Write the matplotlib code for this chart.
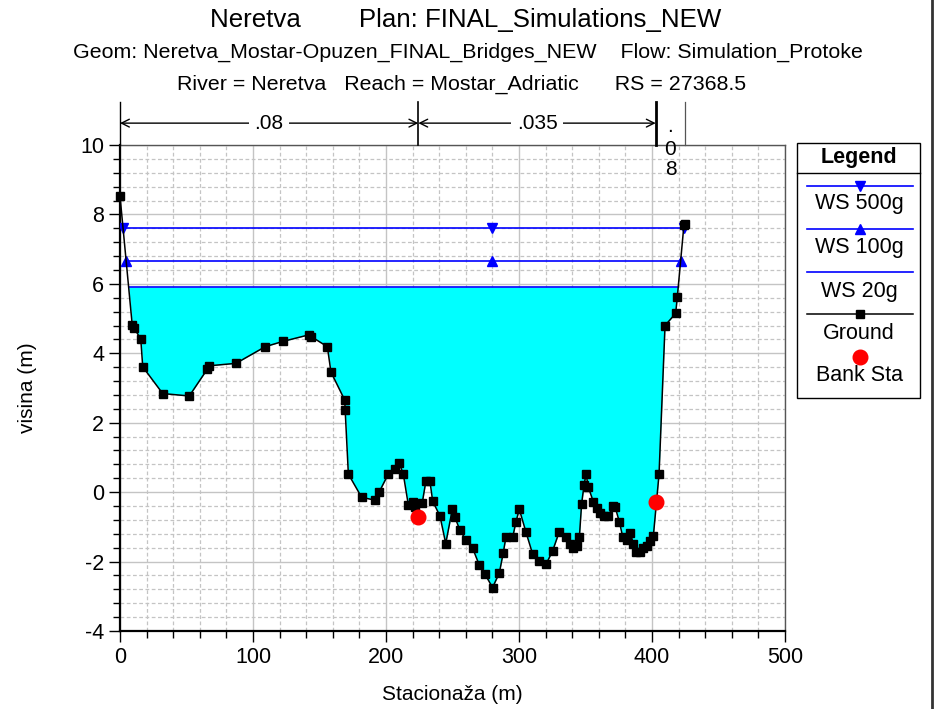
import numpy as np
import matplotlib
matplotlib.use("Agg")
import matplotlib.pyplot as plt
from matplotlib.lines import Line2D
from matplotlib.patches import Rectangle

plt.rcParams['font.family'] = ['Liberation Sans', 'DejaVu Sans']
plt.rcParams['axes.unicode_minus'] = False

# ---- data ----
ground_x = [0, 9.2, 10.7, 15.6, 17.1, 32.1, 52.1, 65.6, 67.1, 87.2, 109.2, 122.3, 141.9, 143.8,
            155.9, 158.6, 169.0, 169.3, 171.7, 181.7, 191.7, 194.7, 201.7, 206.8, 210.0, 213.0,
            216.8, 220.5, 221.8, 227.3, 230.0, 233.0, 235.1, 240.6, 244.9, 249.9, 251.9, 255.6,
            260.2, 265.2, 270.1, 274.4, 280.1, 285.2, 288.2, 290.2, 295.3, 297.7, 300.2, 305.3,
            310.3, 315.3, 320.3, 325.3, 330.3, 335.3, 338.3, 340.8, 343.4, 345.4, 347.1, 348.9,
            350.4, 352.1, 355.9, 358.4, 360.9, 363.9, 367.2, 370.5, 372.2, 375.5, 378.0, 381.0,
            383.5, 386.0, 388.0, 391.0, 393.5, 396.0, 398.5, 401.0, 405.3, 409.8, 417.8, 419.0,
            424.0, 425.0]
ground_y = [8.53, 4.81, 4.72, 4.41, 3.61, 2.84, 2.77, 3.54, 3.64, 3.71, 4.19, 4.34, 4.53, 4.48,
            4.19, 3.46, 2.65, 2.36, 0.52, -0.15, -0.23, -0.01, 0.52, 0.68, 0.83, 0.52,
            -0.37, -0.28, -0.42, -0.30, 0.32, 0.32, -0.26, -0.69, -1.48, -0.49, -0.73, -1.10,
            -1.38, -1.62, -2.10, -2.36, -2.75, -2.33, -1.74, -1.29, -1.29, -0.86, -0.49, -1.16,
            -1.79, -1.99, -2.08, -1.69, -1.14, -1.29, -1.48, -1.62, -1.56, -1.29, -0.33, 0.20,
            0.52, 0.15, -0.28, -0.47, -0.61, -0.69, -0.69, -0.39, -0.42, -0.86, -1.29, -1.38,
            -1.17, -1.48, -1.72, -1.72, -1.62, -1.56, -1.40, -1.27, 0.52, 4.80, 5.15, 5.61,
            7.69, 7.71]
bank_x = [224.3, 402.8]
bank_y = [-0.73, -0.29]
ws_names = ['WS 500g', 'WS 100g', 'WS 20g']
ws_levels = [7.61, 6.66, 5.91]
ws_markers = ['v', '^', None]
n_values = ['.08', '.035', '.08']

gx = np.array(ground_x)
gy = np.array(ground_y)


def crossings(level):
    """left and right intersections of a water level with the ground"""
    pts = []
    for i in range(len(gx) - 1):
        y0, y1 = gy[i] - level, gy[i + 1] - level
        if y0 == 0:
            pts.append(gx[i])
        elif y0 * y1 < 0:
            pts.append(gx[i] + (gx[i + 1] - gx[i]) * y0 / (y0 - y1))
    return min(pts), max(pts)


fig = plt.figure(figsize=(9.34, 7.09), dpi=100)
ax = fig.add_axes([120 / 934, 1 - 631 / 709, 665 / 934, 486 / 709])

# water fill (lowest profile)
wl = ws_levels[2]
fx = np.linspace(gx.min(), gx.max(), 4000)
fy = np.interp(fx, gx, gy)
ax.fill_between(fx, fy, wl, where=fy < wl, color='#00ffff', lw=0, zorder=2)

blue = '#0000ff'
for lev, mk in zip(ws_levels, ws_markers):
    l, r = crossings(lev)
    ax.plot([l, r], [lev, lev], color=blue, lw=1.2, zorder=3)
    if mk:
        ax.plot([l, 280, r], [lev] * 3, ls='none', marker=mk, color=blue, ms=7, zorder=4)

ax.plot(gx, gy, color='black', lw=1.1, marker='s', ms=6.3, mfc='black', mec='black', zorder=5,
        clip_on=False)
ax.plot(bank_x, bank_y, ls='none', marker='o', ms=10.5, color='#ff0000', zorder=6)

ax.set_xlim(0, 500)
ax.set_ylim(-4, 10)
ax.set_xticks(np.arange(0, 501, 100))
ax.set_xticks(np.arange(0, 501, 20), minor=True)
ax.set_yticks(np.arange(-4, 10.1, 2))
ax.set_yticks(np.arange(-4, 10.01, 0.4), minor=True)
ax.grid(which='major', color='#c4c4c4', lw=1.0, ls='-', zorder=0)
ax.grid(which='minor', color='#c4c4c4', lw=0.9, ls=(0, (3, 2)), zorder=0)
ax.set_axisbelow(True)
ax.tick_params(which='both', direction='out', labelsize=15.5, colors='black')
ax.tick_params(which='major', length=8, width=1)
ax.tick_params(which='minor', length=5, width=1)
for s in ['left', 'bottom']:
    ax.spines[s].set_linewidth(1.6)
    ax.spines[s].set_color('black')
for s in ['top', 'right']:
    ax.spines[s].set_linewidth(1.0)
    ax.spines[s].set_color('#555555')
ax.set_xlabel('Stacionaža (m)', fontsize=15, labelpad=12)
ax.set_ylabel('visina (m)', fontsize=15, labelpad=31)

# Manning's n annotations
top = 11.25
ya = 10.63
edges = [gx.min(), bank_x[0], bank_x[1], gx.max()]
lws = [1.0, 1.2, 2.0, 0.9]
cols = ['black', 'black', 'black', '#555555']
for e, lw_, c in zip(edges, lws, cols):
    ax.plot([e, e], [10, top], color=c, lw=lw_, clip_on=False, zorder=7)
for i in range(2):
    a, b = edges[i], edges[i + 1]
    ax.annotate('', xy=(a, ya), xytext=(b, ya),
                arrowprops=dict(arrowstyle='<->', lw=1.0, color='black',
                                shrinkA=0, shrinkB=0, mutation_scale=14),
                annotation_clip=False)
    ax.text((a + b) / 2, ya, n_values[i], ha='center', va='center', fontsize=15,
            bbox=dict(fc='white', ec='none', pad=4), clip_on=False, zorder=8)
xm = (edges[2] + edges[3]) / 2
for ch, yb in zip(n_values[2], [10.37, 9.71, 9.14]):
    ax.text(xm, yb, ch, ha='center', va='baseline', fontsize=15, clip_on=False, zorder=8)

# titles
fig.text(0.499, 1 - 20 / 709, 'Neretva        Plan: FINAL_Simulations_NEW', ha='center', va='center',
         fontsize=18.6)
fig.text(0.501, 1 - 52 / 709, 'Geom: Neretva_Mostar-Opuzen_FINAL_Bridges_NEW    Flow: Simulation_Protoke',
         ha='center', va='center', fontsize=15.4)
fig.text(0.494, 1 - 84 / 709, 'River = Neretva   Reach = Mostar_Adriatic      RS = 27368.5',
         ha='center', va='center', fontsize=15.4)


# legend box
def fy_(p):
    return 1 - p / 709


def fx_(p):
    return p / 934


fig.add_artist(Rectangle((fx_(797), fy_(398)), fx_(123), 255 / 709, fill=False, ec='black', lw=1.0,
                         transform=fig.transFigure))
fig.add_artist(Line2D([fx_(797), fx_(920)], [fy_(173), fy_(173)], color='black', lw=1.0))
fig.text(fx_(859), fy_(157), 'Legend', ha='center', va='center', fontsize=15.5, weight='bold')
entries = [
    (ws_names[0], dict(color=blue, lw=1.2), dict(marker='v', color=blue, ms=7), 186, 204),
    (ws_names[1], dict(color=blue, lw=1.2), dict(marker='^', color=blue, ms=7), 229, 248),
    (ws_names[2], dict(color=blue, lw=1.2), None, 272, 291),
    ('Ground', dict(color='black', lw=1.1), dict(marker='s', color='black', ms=6.3), 314, 334),
    ('Bank Sta', None, dict(marker='o', color='#ff0000', ms=10.5), 357, 376),
]
for name, lkw, mkw, ly, ty in entries:
    if lkw:
        fig.add_artist(Line2D([fx_(807), fx_(913)], [fy_(ly), fy_(ly)], **lkw))
    if mkw:
        fig.add_artist(Line2D([fx_(860)], [fy_(ly)], ls='none', **mkw))
    fig.text(fx_(859), fy_(ty), name, ha='center', va='center', fontsize=15.5)

# right border line
fig.add_artist(Line2D([fx_(932), fx_(932)], [0, 1], color='#333333', lw=2))

fig.savefig('out.png', dpi=100)
